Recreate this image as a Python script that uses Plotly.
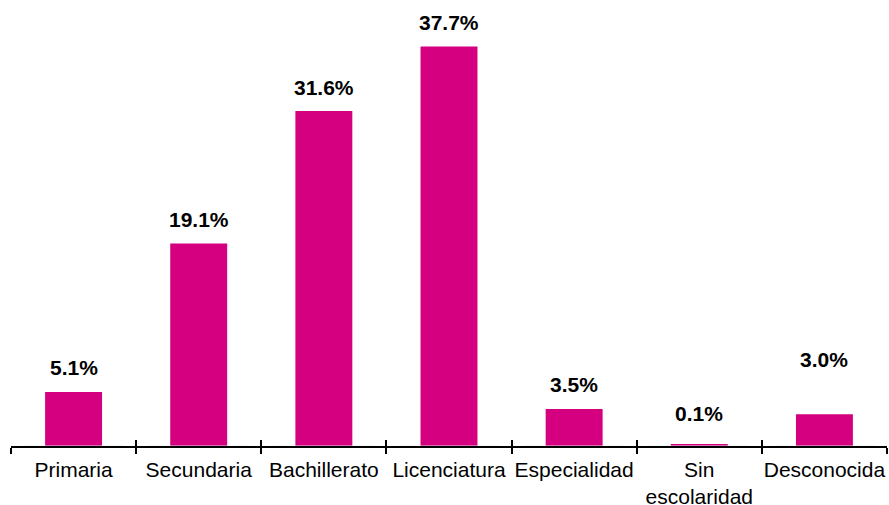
import plotly.graph_objects as go

categories = ["Primaria", "Secundaria", "Bachillerato", "Licenciatura",
              "Especialidad", "Sin<br>escolaridad", "Desconocida"]
values = [5.1, 19.1, 31.6, 37.7, 3.5, 0.1, 3.0]
value_labels = ["5.1%", "19.1%", "31.6%", "37.7%", "3.5%", "0.1%", "3.0%"]
label_shift = [24, 24, 24, 24, 24, 31, 55]

BAR = "#D5007F"
FONT = "Liberation Sans, Arial, sans-serif"

fig = go.Figure()
fig.add_trace(go.Bar(x=categories, y=values, marker_color=BAR,
                     marker_line_width=0, width=0.455, xaxis="x", yaxis="y",
                     hoverinfo="x+y"))

for c, v, t, s in zip(categories, values, value_labels, label_shift):
    fig.add_annotation(x=c, y=v, text="<b>%s</b>" % t, showarrow=False,
                       yanchor="middle", yshift=s,
                       font=dict(family=FONT, size=21, color="#000000"))

fig.update_layout(
    width=889, height=505,
    margin=dict(l=11, r=2, t=0, b=58.5, autoexpand=False),
    plot_bgcolor="white", paper_bgcolor="white",
    showlegend=False,
    font=dict(family=FONT, size=21, color="#000000"),
    xaxis=dict(type="category", showline=True, linecolor="#000000", linewidth=1.5,
               ticks="outside", tickson="boundaries", ticklen=6, tickwidth=1.5,
               tickcolor="#000000", showgrid=False, zeroline=False,
               ticklabelstandoff=4, tickangle=0, automargin=False,
               tickfont=dict(family=FONT, size=21, color="#000000")),
    xaxis2=dict(type="category", overlaying="x", matches="x", showline=False,
                ticks="inside", tickson="boundaries", ticklen=6, tickwidth=1.5,
                tickcolor="#000000", showticklabels=False, showgrid=False,
                zeroline=False, side="bottom", anchor="y", automargin=False),
    yaxis=dict(range=[0, 42.08], visible=False, showgrid=False, zeroline=False,
               automargin=False),
)
# invisible helper trace to activate xaxis2 (inside ticks)
fig.add_trace(go.Bar(x=categories, y=[0] * len(categories), xaxis="x2", yaxis="y",
                     marker_color="rgba(0,0,0,0)", hoverinfo="skip", showlegend=False))

fig.write_html("out.html", config={"displayModeBar": False},
               post_script="document.body.style.margin='0';"
                           "document.body.style.overflow='hidden';")
